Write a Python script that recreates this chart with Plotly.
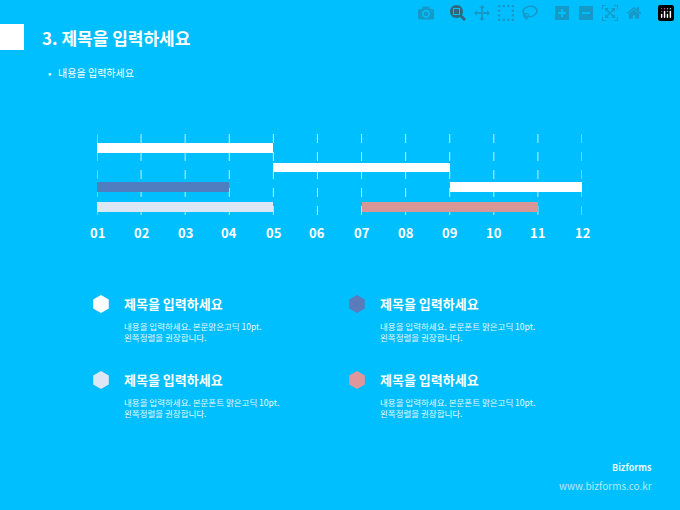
import math
import plotly.graph_objects as go

BG = "#00BFFF"
FONT = "Noto Sans CJK KR"

# gantt rows, bottom to top
starts = [1, 1, 9, 5, 1, 7]
ends = [5, 4, 12, 9, 5, 11]
row_of = [0, 1, 1, 2, 3, 0]
colors = ["#DCE6F5", "#4F7DC0", "#FFFFFF", "#FFFFFF", "#FFFFFF", "#D99697"]
months = ["01", "02", "03", "04", "05", "06", "07", "08", "09", "10", "11", "12"]

legend_titles = ["제목을 입력하세요"] * 4
legend_body = [
    "내용을 입력하세요. 본문맑은고딕 10pt.<br>왼쪽정렬을 권장합니다.",
    "내용을 입력하세요. 본문폰트 맑은고딕 10pt.<br>왼쪽정렬을 권장합니다.",
    "내용을 입력하세요. 본문폰트 맑은고딕 10pt.<br>왼쪽정렬을 권장합니다.",
    "내용을 입력하세요. 본문폰트 맑은고딕 10pt.<br>왼쪽정렬을 권장합니다.",
]
legend_colors = ["#FFFFFF", "#5B7BBA", "#DCE6F5", "#E0969A"]
legend_x = [101, 357, 101, 357]
legend_y = [304, 304, 380, 380]

W, H = 680, 510

fig = go.Figure()
fig.add_trace(go.Bar(
    y=row_of, x=[e - s for s, e in zip(starts, ends)], base=starts,
    orientation="h", width=0.5, marker=dict(color=colors, line=dict(width=0)),
    hoverinfo="skip",
))

shapes = [dict(type="rect", xref="paper", yref="paper", x0=0, x1=24 / W,
               y0=1 - 50 / H, y1=1 - 24 / H, fillcolor="white", line=dict(width=0))]
for m in range(1, 13):
    shapes.append(dict(type="line", xref="x", yref="paper", x0=m, x1=m,
                       y0=1 - 215 / H, y1=1 - 133 / H, layer="below",
                       line=dict(color="rgba(255,255,255,0.75)", width=1, dash="dash")))


def hexagon(cx, cy, r=9):
    pts = []
    for k in range(6):
        a = math.radians(90 + 60 * k)
        pts.append((( cx + r * math.cos(a)) / W, 1 - (cy - r * math.sin(a)) / H))
    return "M " + " L ".join("%.5f,%.5f" % p for p in pts) + " Z"


for c, lx, ly in zip(legend_colors, legend_x, legend_y):
    shapes.append(dict(type="path", xref="paper", yref="paper", path=hexagon(lx, ly),
                       fillcolor=c, line=dict(width=0)))

ann = [
    dict(text="<b>3. 제목을 입력하세요</b>", x=40 / W, y=1 - 38 / H, font=dict(size=17, color="white")),
    dict(text="•   내용을 입력하세요", x=46 / W, y=1 - 73 / H, font=dict(size=10, color="white")),
    dict(text="<b>Bizforms</b>", x=654 / W, y=1 - 467 / H, xanchor="right", font=dict(size=9, color="#E6F8FF")),
    dict(text="www.bizforms.co.kr", x=654 / W, y=1 - 485 / H, xanchor="right", font=dict(size=10, color="#B3EBFF")),
]
for i, m in enumerate(months):
    ann.append(dict(text="<b>%s</b>" % m, x=i + 1, xref="x", y=1 - 233 / H, xanchor="center",
                    font=dict(size=13, color="white")))
for t, b, lx, ly in zip(legend_titles, legend_body, legend_x, legend_y):
    ann.append(dict(text="<b>%s</b>" % t, x=(lx + 21) / W, y=1 - (ly - 1) / H, font=dict(size=13, color="white")))
    ann.append(dict(text=b, x=(lx + 21) / W, y=1 - (ly + 27) / H, font=dict(size=8.5, color="#E6F8FF")))
for a in ann:
    a.setdefault("xref", "paper")
    a["yref"] = "paper"
    a.setdefault("xanchor", "left")
    a["yanchor"] = "middle"
    a["showarrow"] = False
    a["align"] = "left"

fig.update_layout(
    width=W, height=H, margin=dict(l=0, r=0, t=0, b=0),
    paper_bgcolor=BG, plot_bgcolor=BG, showlegend=False, bargap=0,
    font=dict(family=FONT, color="white"),
    xaxis=dict(domain=[97 / W, 582 / W], range=[1, 12], visible=False),
    yaxis=dict(domain=[1 - 224.7 / H, 1 - 133.2 / H], range=[-0.9, 3.75], visible=False),
    shapes=shapes, annotations=ann,
)
fig.write_html("out.html", post_script="document.body.style.margin='0';document.body.style.background='%s';" % BG)
